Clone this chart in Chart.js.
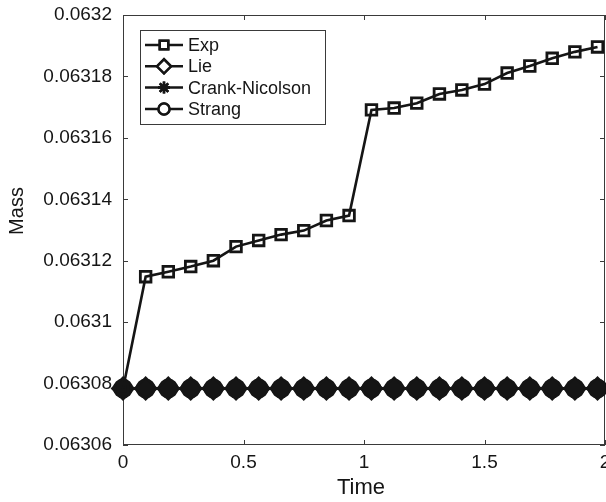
<!DOCTYPE html>
<html lang="en">
<head>
    <meta charset="UTF-8">
    <title>Mass vs Time</title>
    <script src="https://cdn.jsdelivr.net/npm/chart.js"></script>
    <style>
        html, body { margin: 0; padding: 0; background: #fff; }
        canvas { display: block; }
    </style>
</head>
<body>
    <canvas id="massChart" width="606" height="502"></canvas>

    <script>
        // values
        const times = [0, 0.094, 0.188, 0.281, 0.375, 0.469, 0.563, 0.656, 0.75, 0.844, 0.938,
                       1.031, 1.125, 1.219, 1.313, 1.406, 1.5, 1.594, 1.688, 1.781, 1.875, 1.969];
        const expMass = [0.0630783, 0.0631148, 0.0631164, 0.0631181, 0.0631200, 0.0631246, 0.0631266,
                         0.0631285, 0.0631298, 0.0631331, 0.0631347, 0.0631691, 0.0631697, 0.0631713,
                         0.0631743, 0.0631756, 0.0631775, 0.0631811, 0.0631834, 0.0631859, 0.0631880, 0.0631896];
        const lieMass = [0.0630784, 0.0630784, 0.0630784, 0.0630784, 0.0630784, 0.0630784, 0.0630784,
                         0.0630784, 0.0630784, 0.0630784, 0.0630784, 0.0630784, 0.0630784, 0.0630784,
                         0.0630784, 0.0630784, 0.0630784, 0.0630784, 0.0630784, 0.0630784, 0.0630784, 0.0630784];
        const cnMass = [0.0630784, 0.0630784, 0.0630784, 0.0630784, 0.0630784, 0.0630784, 0.0630784,
                        0.0630784, 0.0630784, 0.0630784, 0.0630784, 0.0630784, 0.0630784, 0.0630784,
                        0.0630784, 0.0630784, 0.0630784, 0.0630784, 0.0630784, 0.0630784, 0.0630784, 0.0630784];
        const strangMass = [0.0630784, 0.0630784, 0.0630784, 0.0630784, 0.0630784, 0.0630784, 0.0630784,
                            0.0630784, 0.0630784, 0.0630784, 0.0630784, 0.0630784, 0.0630784, 0.0630784,
                            0.0630784, 0.0630784, 0.0630784, 0.0630784, 0.0630784, 0.0630784, 0.0630784, 0.0630784];

        const seriesNames = ['Exp', 'Lie', 'Crank-Nicolson', 'Strang'];
        const xTicks = [0, 0.5, 1, 1.5, 2];
        const yTicks = [0.06306, 0.06308, 0.0631, 0.06312, 0.06314, 0.06316, 0.06318, 0.0632];

        const FONT = '"Liberation Sans", Arial, Helvetica, sans-serif';
        const INK = '#151515';

        const toPoints = ys => ys.map((y, i) => ({ x: times[i], y: y }));

        // legend marker look (hollow, like the key in the figure)
        const legendMarks = [
            { style: 'rect', radius: 6 },
            { style: 'rectRot', radius: 7 },
            { style: 'star', radius: 6 },
            { style: 'circle', radius: 5.5 }
        ];

        // box, inward tick marks, x labels, titles, legend
        const framePlugin = {
            id: 'frame',
            beforeDatasetsDraw(chart) {
                const { ctx, chartArea: a, scales } = chart;
                ctx.save();
                ctx.strokeStyle = '#3a3a3a';
                ctx.lineWidth = 1;
                ctx.strokeRect(a.left + 0.5, a.top + 0.5, a.right - a.left - 1, a.bottom - a.top - 1);
                ctx.beginPath();
                yTicks.forEach(v => {
                    const y = Math.round(scales.y.getPixelForValue(v)) + 0.5;
                    ctx.moveTo(a.left, y); ctx.lineTo(a.left + 5, y);
                    ctx.moveTo(a.right, y); ctx.lineTo(a.right - 5, y);
                });
                xTicks.forEach(v => {
                    const x = Math.round(scales.x.getPixelForValue(v)) + 0.5;
                    ctx.moveTo(x, a.bottom); ctx.lineTo(x, a.bottom - 5);
                    ctx.moveTo(x, a.top); ctx.lineTo(x, a.top + 5);
                });
                ctx.stroke();

                // x tick labels (last one runs off the canvas edge, as in the figure)
                ctx.fillStyle = INK;
                ctx.font = '19px ' + FONT;
                ctx.textAlign = 'center';
                ctx.textBaseline = 'middle';
                xTicks.forEach(v => {
                    ctx.fillText(String(v), scales.x.getPixelForValue(v), a.bottom + 18);
                });
                ctx.restore();
            },
            afterDraw(chart) {
                const { ctx } = chart;
                ctx.save();
                ctx.fillStyle = INK;
                ctx.textAlign = 'center';
                ctx.textBaseline = 'middle';
                ctx.font = '22px ' + FONT;
                ctx.fillText('Time', 361, 488);
                ctx.font = '20px ' + FONT;
                ctx.translate(17, 211);
                ctx.rotate(-Math.PI / 2);
                ctx.fillText('Mass', 0, 0);
                ctx.restore();

                // legend box in the upper left corner
                ctx.save();
                ctx.fillStyle = '#fff';
                ctx.fillRect(140, 30, 185, 94);
                ctx.strokeStyle = '#3a3a3a';
                ctx.lineWidth = 1;
                ctx.strokeRect(140.5, 30.5, 185, 94);
                ctx.font = '18px ' + FONT;
                ctx.textBaseline = 'middle';
                seriesNames.forEach((name, i) => {
                    const y = 45 + i * 21.3;
                    ctx.strokeStyle = INK;
                    ctx.lineWidth = 2.5;
                    ctx.beginPath();
                    ctx.moveTo(145, y); ctx.lineTo(183, y);
                    ctx.stroke();
                    ctx.fillStyle = '#fff';
                    Chart.helpers.drawPoint(ctx, {
                        pointStyle: legendMarks[i].style,
                        radius: legendMarks[i].radius,
                        borderWidth: 2.5,
                        rotation: 0
                    }, 164, y);
                    ctx.fill();
                    ctx.stroke();
                    ctx.fillStyle = INK;
                    ctx.fillText(name, 188, y + 1);
                });
                ctx.restore();
            }
        };

        const ctx = document.getElementById('massChart').getContext('2d');
        new Chart(ctx, {
            type: 'scatter',
            data: {
                datasets: [
                    {
                        label: seriesNames[0],
                        data: toPoints(expMass),
                        showLine: true,
                        borderColor: INK,
                        borderWidth: 2.6,
                        pointStyle: 'rect',
                        pointRadius: 7.5,
                        pointBorderWidth: 2.8,
                        pointBackgroundColor: 'rgba(255,255,255,0)',
                        pointBorderColor: INK,
                        clip: false
                    },
                    {
                        label: seriesNames[1],
                        data: toPoints(lieMass),
                        showLine: true,
                        borderColor: INK,
                        borderWidth: 2.6,
                        pointStyle: 'rectRot',
                        pointRadius: 11,
                        pointBorderWidth: 2,
                        pointBackgroundColor: INK,
                        pointBorderColor: INK,
                        clip: false
                    },
                    {
                        label: seriesNames[2],
                        data: toPoints(cnMass),
                        showLine: true,
                        borderColor: INK,
                        borderWidth: 2.6,
                        pointStyle: 'star',
                        pointRadius: 9,
                        pointBorderWidth: 2.6,
                        pointBorderColor: INK,
                        clip: false
                    },
                    {
                        label: seriesNames[3],
                        data: toPoints(strangMass),
                        showLine: true,
                        borderColor: INK,
                        borderWidth: 2.6,
                        pointStyle: 'circle',
                        pointRadius: 9,
                        pointBorderWidth: 2,
                        pointBackgroundColor: INK,
                        pointBorderColor: INK,
                        clip: false
                    }
                ]
            },
            options: {
                responsive: false,
                animation: false,
                layout: { autoPadding: false, padding: { top: 15, right: 1, bottom: 0, left: 0 } },
                plugins: {
                    legend: { display: false },
                    tooltip: { enabled: false }
                },
                scales: {
                    x: {
                        type: 'linear',
                        min: 0,
                        max: 2,
                        afterBuildTicks: s => { s.ticks = xTicks.map(v => ({ value: v })); },
                        afterFit: s => { s.height = 57; },
                        grid: { display: false, drawTicks: false },
                        border: { display: false },
                        ticks: { display: false }
                    },
                    y: {
                        type: 'linear',
                        min: 0.06306,
                        max: 0.0632,
                        afterBuildTicks: s => { s.ticks = yTicks.map(v => ({ value: v })); },
                        afterFit: s => { s.width = 123; s.paddingTop = 0; s.paddingBottom = 0; },
                        grid: { display: false, drawTicks: false },
                        border: { display: false },
                        ticks: {
                            padding: 11,
                            color: INK,
                            font: { family: FONT, size: 19 },
                            callback: v => String(Number(v.toFixed(5)))
                        }
                    }
                }
            },
            plugins: [framePlugin]
        });
    </script>
</body>
</html>
